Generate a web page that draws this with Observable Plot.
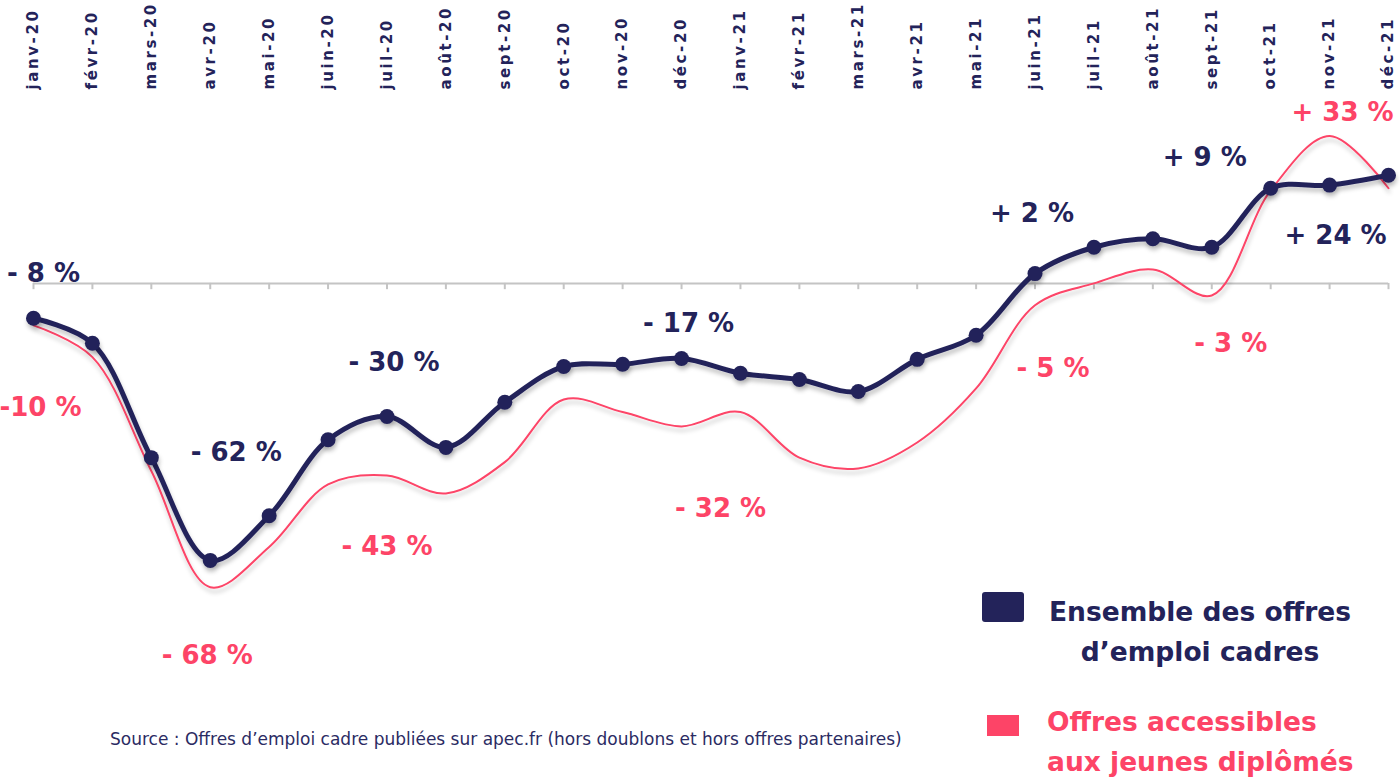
<!DOCTYPE html>
<html>
<head>
<meta charset="utf-8">
<script src="https://cdn.jsdelivr.net/npm/d3@7"></script>
<script src="https://cdn.jsdelivr.net/npm/@observablehq/plot@0.6"></script>
<style>
  html, body { margin: 0; padding: 0; background: #fff; overflow: hidden; }
  #wrap { position: relative; width: 1400px; height: 777px; overflow: hidden; }
  #chart svg { max-width: none !important; display: block; }
  .leg { position: absolute; font-family: "DejaVu Sans", sans-serif; font-weight: bold; font-size: 26.5px; line-height: 40px; }
  .sw { position: absolute; }
  #source { position: absolute; left: 110px; top: 729px; font-family: "DejaVu Sans", sans-serif; font-size: 17px; color: #2b2b63; white-space: nowrap; }
</style>
</head>
<body>
<div id="wrap">
  <div id="chart"></div>
  <div class="sw" style="left:982px;top:592px;width:42px;height:30px;background:#23235a;border-radius:3px;"></div>
  <div class="leg" id="leg1" style="left:1020px;top:592px;width:360px;text-align:center;color:#23235a;">Ensemble des offres<br>d’emploi cadres</div>
  <div class="sw" style="left:987px;top:715px;width:32px;height:21px;background:#fd4467;"></div>
  <div class="leg" id="leg2" style="left:1047px;top:702px;text-align:left;color:#fd4467;white-space:nowrap;">Offres accessibles<br>aux jeunes diplômés</div>
  <div id="source">Source : Offres d’emploi cadre publiées sur apec.fr (hors doublons et hors offres partenaires)</div>
</div>
<script>
const months = ["janv-20","févr-20","mars-20","avr-20","mai-20","juin-20","juil-20","août-20","sept-20","oct-20","nov-20","déc-20",
                "janv-21","févr-21","mars-21","avr-21","mai-21","juin-21","juil-21","août-21","sept-21","oct-21","nov-21","déc-21"];
const ensemble = [-7.8,-13.4,-39,-62,-52,-35,-29.8,-36.7,-26.6,-18.6,-18.1,-16.8,-20.1,-21.5,-24.2,-17,-11.6,2.2,8.1,10,8.1,21.3,22,24.2];
const jeunes   = [-9.4,-16.5,-42,-68,-59,-45,-43,-47,-40,-26,-28.8,-32,-28.8,-39,-41.4,-35.6,-23.5,-4.9,0,3.1,-2.7,20.8,33,21.3];

const labelsEnsemble = [
  {month: "janv-20", text: "- 8 %",  dx: 10, dy: -45},
  {month: "avr-20",  text: "- 62 %", dx: 26, dy: -108},
  {month: "juil-20", text: "- 30 %", dx: 7,  dy: -54},
  {month: "déc-20",  text: "- 17 %", dx: 7,  dy: -35},
  {month: "juin-21", text: "+ 2 %",  dx: -3, dy: -60},
  {month: "sept-21", text: "+ 9 %",  dx: -7, dy: -90},
  {month: "nov-21",  text: "+ 24 %", dx: 6,  dy: 51}
];
const labelsJeunes = [
  {month: "janv-20", text: "-10 %",  dx: 7,  dy: 82},
  {month: "avr-20",  text: "- 68 %", dx: -3, dy: 68},
  {month: "juil-20", text: "- 43 %", dx: 0,  dy: 71},
  {month: "déc-20",  text: "- 32 %", dx: 39, dy: 82},
  {month: "juin-21", text: "- 5 %",  dx: 18, dy: 63},
  {month: "sept-21", text: "- 3 %",  dx: 19, dy: 48},
  {month: "nov-21",  text: "+ 33 %", dx: 13, dy: -23}
];

const NAVY = "#23235a", PINK = "#fd4467";
const dataE = months.map((m, i) => ({month: m, value: ensemble[i]}));
const dataJ = months.map((m, i) => ({month: m, value: jeunes[i]}));
const valE = Object.fromEntries(dataE.map(d => [d.month, d.value]));
const valJ = Object.fromEntries(dataJ.map(d => [d.month, d.value]));

const labelMarks = [
  ...labelsEnsemble.map(l => Plot.text([l], {x: "month", y: d => valE[d.month], text: "text", dx: l.dx, dy: l.dy,
      fill: NAVY, fontSize: 26, fontWeight: "bold", fontFamily: "DejaVu Sans"})),
  ...labelsJeunes.map(l => Plot.text([l], {x: "month", y: d => valJ[d.month], text: "text", dx: l.dx, dy: l.dy,
      fill: PINK, fontSize: 26, fontWeight: "bold", fontFamily: "DejaVu Sans"}))
];

const chart = Plot.plot({
  width: 1400,
  height: 777,
  marginTop: 95,
  marginBottom: 159,
  marginLeft: 33,
  marginRight: 12,
  style: {background: "transparent", overflow: "visible", maxWidth: "none"},
  x: {type: "point", domain: months, padding: 0, round: false, label: null},
  y: {domain: [-75, 42.06], axis: null},
  marks: [
    Plot.axisX({anchor: "top", tickRotate: -90, tickSize: 0, tickPadding: 6, fill: NAVY, label: null,
      fontSize: 15, fontWeight: "bold", fontFamily: "DejaVu Sans"}),
    Plot.ruleY([0], {stroke: "#c4c4c4", strokeWidth: 2}),
    Plot.ruleX(months, {x: d => d, y1: 0, y2: -1.4, stroke: "#c4c4c4", strokeWidth: 2}),
    Plot.line(dataJ, {x: "month", y: "value", curve: "catmull-rom", stroke: PINK, strokeWidth: 2}),
    Plot.line(dataE, {x: "month", y: "value", curve: "catmull-rom", stroke: NAVY, strokeWidth: 5}),
    Plot.dot(dataE, {x: "month", y: "value", r: 7.5, fill: NAVY}),
    ...labelMarks
  ]
});

// drop shadows & letter spacing
const svg = d3.select(chart);
svg.insert("defs", ":first-child").html(
  '<filter id="sh" x="-5%" y="-10%" width="110%" height="130%"><feDropShadow dx="1" dy="4" stdDeviation="2" flood-color="#000" flood-opacity="0.22"/></filter>');
svg.selectAll('g[aria-label="line"], g[aria-label="dot"]').attr("filter", "url(#sh)");
svg.selectAll('g[aria-label="x-axis tick label"] text').style("letter-spacing", "2.6px");
document.getElementById("chart").appendChild(chart);
</script>
</body>
</html>
